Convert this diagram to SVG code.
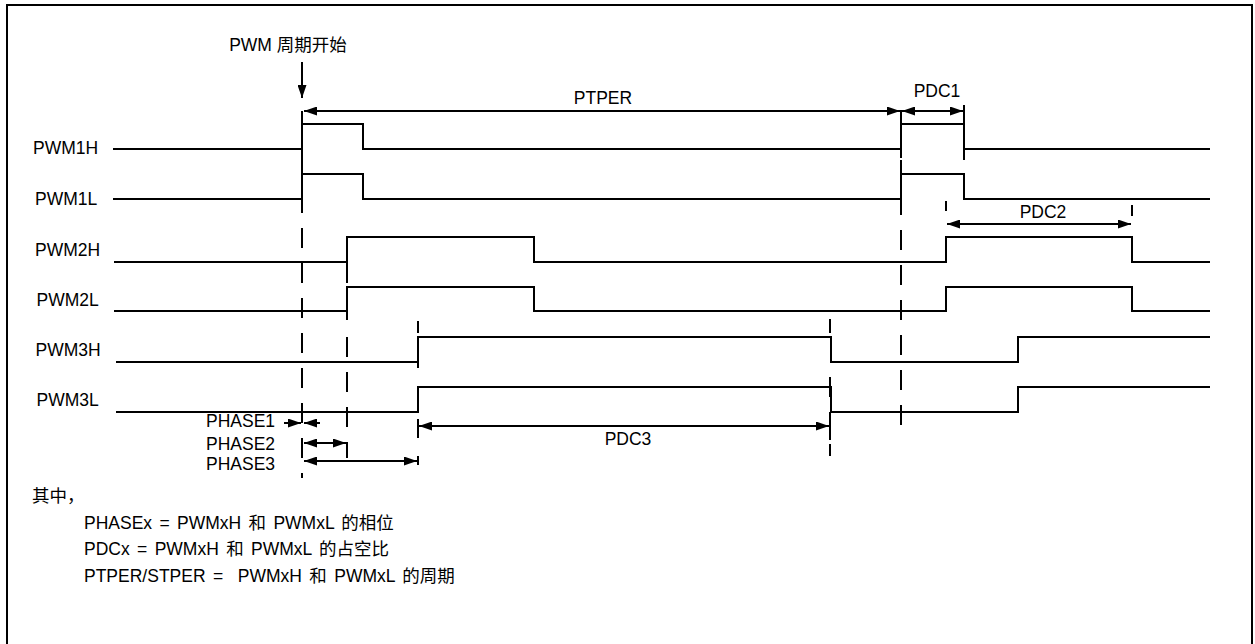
<svg xmlns="http://www.w3.org/2000/svg" width="1255" height="644" viewBox="0 0 1255 644">
<style>
text{font-family:"Liberation Sans","Noto Sans CJK SC",sans-serif;font-size:17.5px;fill:#000}
.note{font-size:17.5px;word-spacing:2.5px}
.sig{fill:none;stroke:#000;stroke-width:2;stroke-linejoin:miter}
.ln{stroke:#000;stroke-width:2;fill:none}
.dash{stroke:#000;stroke-width:2;fill:none;stroke-dasharray:20 15}
.arr{stroke:#000;stroke-width:2;fill:none;marker-end:url(#ah)}
.arr2{stroke:#000;stroke-width:2;fill:none;marker-start:url(#ah);marker-end:url(#ah)}
</style>
<defs>
<marker id="ah" markerUnits="userSpaceOnUse" markerWidth="13" markerHeight="9" refX="13" refY="4.5" orient="auto-start-reverse">
<path d="M0,0 L13,4.5 L0,9 z" fill="#000"/>
</marker>
</defs>
<rect x="0" y="0" width="1255" height="644" fill="#fff"/>
<path d="M7,650 V5 H1252 V650" class="ln" stroke-width="2.5"/>

<g id="labels">
<text x="33" y="154">PWM1H</text>
<text x="35" y="205">PWM1L</text>
<text x="35" y="256">PWM2H</text>
<text x="36.5" y="306">PWM2L</text>
<text x="35.5" y="356">PWM3H</text>
<text x="36.5" y="406">PWM3L</text>
</g>

<g id="pwm1h"><polyline class="sig" points="113,149 302,149 302,124 363,124 363,149 901,149 901,124 964,124 964,149 1210,149"/></g>
<g id="pwm1l"><polyline class="sig" points="113,199 302,199 302,174 363,174 363,199 901,199 901,174 964,174 964,199 1210,199"/></g>
<g id="pwm2h"><polyline class="sig" points="114,262 347,262 347,237 534,237 534,262 946,262 946,237 1132,237 1132,262 1210,262"/></g>
<g id="pwm2l"><polyline class="sig" points="114,311 347,311 347,287 534,287 534,311 946,311 946,287 1132,287 1132,311 1210,311"/></g>
<g id="pwm3h"><polyline class="sig" points="116,362 418,362 418,337 831,337 831,362 1018,362 1018,337 1210,337"/></g>
<g id="pwm3l"><polyline class="sig" points="116,412 418,412 418,387 831,387 831,412 1018,412 1018,387 1210,387"/></g>

<g id="connectors">
<line class="ln" x1="302" y1="111" x2="302" y2="158"/>
<line class="ln" x1="901" y1="110" x2="901" y2="158"/>
<line class="ln" x1="964" y1="105" x2="964" y2="160"/>
<line class="ln" x1="347" y1="237" x2="347" y2="283"/>
<line class="ln" x1="347" y1="287" x2="347" y2="320"/>
<line class="ln" x1="946" y1="201" x2="946" y2="211"/>
<line class="ln" x1="1132" y1="205" x2="1132" y2="216"/>
<line class="dash" x1="302" y1="158" x2="302" y2="478"/>
<line class="dash" x1="347" y1="337" x2="347" y2="458"/>
<line class="dash" x1="901" y1="160" x2="901" y2="437"/>
<line class="ln" x1="418" y1="321" x2="418" y2="333"/>
<line class="ln" x1="418" y1="362" x2="418" y2="368"/>
<line class="ln" x1="418" y1="419" x2="418" y2="438"/>
<line class="ln" x1="418" y1="456" x2="418" y2="465"/>
<line class="ln" x1="830" y1="319" x2="830" y2="333"/>
<line class="ln" x1="830" y1="377" x2="830" y2="397"/>
<line class="ln" x1="830" y1="412" x2="830" y2="440"/>
<line class="ln" x1="830" y1="444" x2="830" y2="456"/>
<line class="arr" x1="302" y1="62" x2="302" y2="98"/>
<line class="arr2" x1="304" y1="111" x2="900" y2="111"/>
<line class="arr2" x1="902" y1="111" x2="963" y2="111"/>
<line class="arr2" x1="947" y1="224" x2="1131" y2="224"/>
<line class="arr2" x1="419" y1="426" x2="829" y2="426"/>
<line class="arr" x1="284" y1="423" x2="301" y2="423"/>
<line class="arr" x1="320" y1="423" x2="304" y2="423"/>
<line class="arr2" x1="304" y1="443" x2="346" y2="443"/>
<line class="arr2" x1="304" y1="461" x2="417" y2="461"/>
</g>

<g id="dimlabels">
<text x="288" y="51" text-anchor="middle">PWM 周期开始</text>
<text x="603" y="104" text-anchor="middle">PTPER</text>
<text x="937" y="97" text-anchor="middle">PDC1</text>
<text x="1043" y="218" text-anchor="middle">PDC2</text>
<text x="628" y="445" text-anchor="middle">PDC3</text>
<text x="206" y="427">PHASE1</text>
<text x="206" y="450">PHASE2</text>
<text x="206" y="470">PHASE3</text>
</g>

<g id="notes">
<text class="note" x="32" y="502">其中，</text>
<text class="note" x="84" y="529">PHASEx = PWMxH 和 PWMxL 的相位</text>
<text class="note" x="84" y="555">PDCx = PWMxH 和 PWMxL 的占空比</text>
<text class="note" x="84" y="582" xml:space="preserve">PTPER/STPER =  PWMxH 和 PWMxL 的周期</text>
</g>
</svg>
